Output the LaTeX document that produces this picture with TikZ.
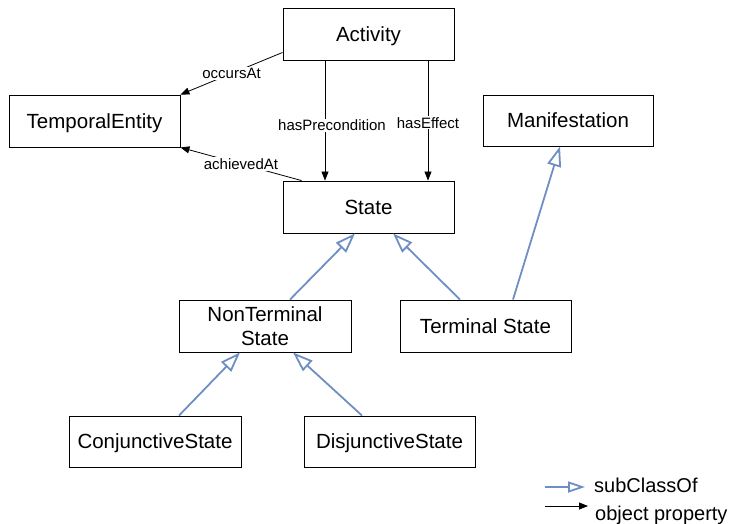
\documentclass[tikz,border=0pt]{standalone}
\usepackage{fontspec}
\setmainfont{Liberation Sans}
\usetikzlibrary{arrows.meta}
\definecolor{subblue}{RGB}{110,142,196}
\tikzset{
  cls/.style={draw=black, line width=0.9pt, fill=white, inner sep=0pt,
    minimum width=171pt, minimum height=52pt, align=center, text depth=0pt,
    font=\fontsize{20.5}{23.5}\selectfont},
  prop/.style={draw=black, line width=0.8pt, -{Triangle[length=9pt,width=7pt]}},
  sub/.style={draw=subblue, line width=1.8pt,
    -{Triangle[open,length=20pt,width=14pt,line width=1.8pt,fill=white]}},
  plabel/.style={fill=white, inner sep=1pt, font=\fontsize{15}{17}\selectfont},
  legtext/.style={anchor=base west, inner sep=0pt, font=\fontsize{20}{23}\selectfont}
}
\begin{document}
\begin{tikzpicture}[x=1pt,y=-1pt]
  \useasboundingbox (0,0) rectangle (730,523);

  % classes
  \node[cls] (act)  at (368.5,34)  {Activity};
  \node[cls] (te)   at (94.5,121)  {TemporalEntity};
  \node[cls, minimum width=170pt, minimum height=51pt] (man) at (568,120.5) {Manifestation};
  \node[cls] (st)   at (368.5,207) {State};
  \node[cls, minimum width=172pt] (nt) at (265,326) {NonTerminal\\State};
  \node[cls] (term) at (485.5,326) {Terminal State};
  \node[cls, minimum width=172pt, minimum height=51pt] (conj) at (155,441.5) {ConjunctiveState};
  \node[cls, minimum height=51pt] (dis) at (389.5,441.5) {DisjunctiveState};

  % object properties
  \draw[prop] ([yshift=8pt]act.south west) -- node[plabel]{occursAt} (te.north east);
  \draw[prop] ([xshift=19pt]st.north west) -- node[plabel]{achievedAt} (te.south east);
  \draw[prop] ([xshift=-43.5pt]act.south) -- node[plabel, pos=0.54, xshift=7pt]{hasPrecondition} ([xshift=-43.5pt]st.north);
  \draw[prop] ([xshift=59.5pt]act.south) -- node[plabel, pos=0.52]{hasEffect} ([xshift=59.5pt]st.north);

  % subclass relations
  \draw[sub] ([xshift=25pt]nt.north) -- ([xshift=-13.5pt]st.south);
  \draw[sub] ([xshift=-25.5pt]term.north) -- ([xshift=24.5pt]st.south);
  \draw[sub] ([xshift=27.5pt]term.north) -- ([xshift=-8pt]man.south);
  \draw[sub] ([xshift=24pt]conj.north) -- ([xshift=-25pt]nt.south);
  \draw[sub] ([xshift=-27.5pt]dis.north) -- ([xshift=28pt]nt.south);

  % legend
  \coordinate (l1a) at (545,487);
  \coordinate (l1b) at (585,487);
  \coordinate (l2a) at (545,506);
  \coordinate (l2b) at (588,506);
  \draw[sub, -{Triangle[open,length=17pt,width=11pt,line width=1.8pt,fill=white]}] (l1a) -- (l1b);
  \draw[prop] (l2a) -- (l2b);
  \node[legtext] (lsub) at (594,492) {subClassOf};
  \node[legtext] (lobj) at (595,520) {object property};
\end{tikzpicture}
\end{document}
